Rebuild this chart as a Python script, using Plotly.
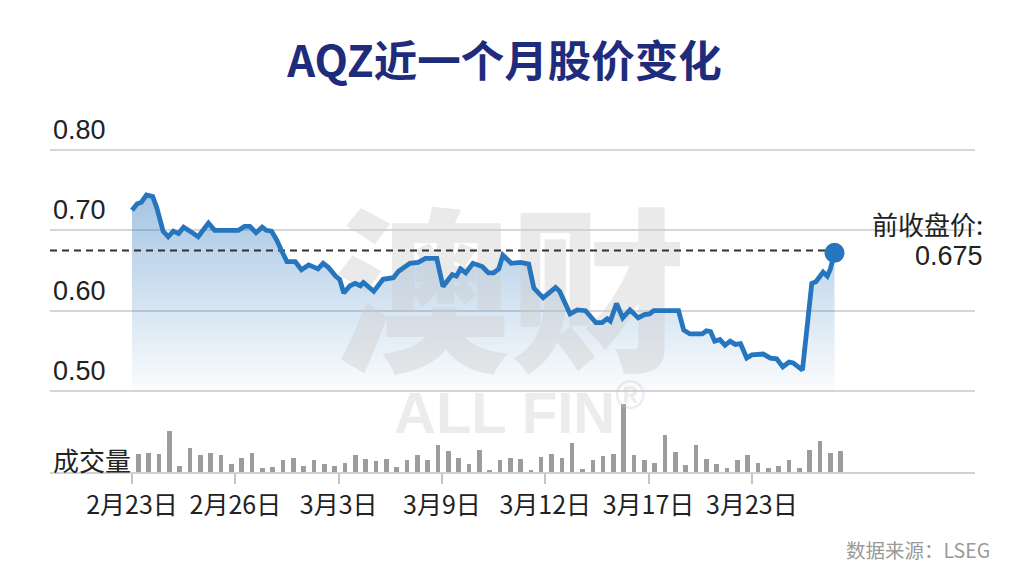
import plotly.graph_objects as go

# ---------------- data ----------------
title_text = "AQZ近一个月股价变化"
date_ticks = ["2月23日", "2月26日", "3月3日", "3月9日", "3月12日", "3月17日", "3月23日"]
date_tick_pos = [0, 10, 20, 30, 40, 50, 60]

# price series: time position (trading-session index) and price
price_t = [0.0, 0.5, 0.9, 1.4, 2.0, 2.4, 2.8, 3.0, 3.5, 4.0, 4.5, 5.0, 5.6, 6.4, 7.4, 8.0,
           10.3, 10.9, 11.4, 12.0, 12.6, 13.0, 13.5, 14.0, 14.5, 15.0, 15.8, 16.4, 17.1, 18.0,
           18.5, 19.0, 19.7, 20.1, 20.5, 21.1, 21.6, 22.1, 22.4, 23.4, 24.3, 25.3, 25.8, 26.9,
           27.7, 28.4, 29.5, 30.1, 31.0, 31.4, 31.8, 32.3, 33.0, 33.9, 34.5, 35.0, 35.5, 35.9,
           36.7, 37.6, 38.4, 38.9, 39.8, 41.0, 41.4, 42.4, 43.1, 43.9, 44.9, 45.5, 46.0, 46.3,
           46.9, 47.5, 48.2, 49.0, 49.6, 50.1, 50.5, 52.9, 53.4, 54.0, 55.2, 55.6, 56.0, 56.4,
           56.9, 57.4, 57.9, 58.4, 58.9, 59.5, 60.0, 61.1, 61.8, 62.4, 63.0, 63.6, 64.0, 64.9,
           65.8, 66.2, 66.9, 67.3, 67.6, 68.0]
price = [0.725, 0.733, 0.735, 0.744, 0.742, 0.728, 0.709, 0.699, 0.692, 0.699, 0.696, 0.704,
         0.699, 0.692, 0.709, 0.700, 0.700, 0.705, 0.705, 0.697, 0.704, 0.700, 0.699, 0.688,
         0.674, 0.661, 0.661, 0.651, 0.657, 0.652, 0.659, 0.654, 0.643, 0.639, 0.622, 0.631,
         0.634, 0.631, 0.635, 0.624, 0.639, 0.641, 0.649, 0.659, 0.660, 0.665, 0.665, 0.630,
         0.645, 0.643, 0.652, 0.647, 0.659, 0.655, 0.647, 0.647, 0.652, 0.669, 0.659, 0.660,
         0.658, 0.628, 0.616, 0.629, 0.624, 0.596, 0.601, 0.600, 0.585, 0.585, 0.590, 0.587,
         0.609, 0.591, 0.601, 0.591, 0.595, 0.596, 0.600, 0.600, 0.576, 0.571, 0.571, 0.575,
         0.574, 0.562, 0.564, 0.557, 0.562, 0.558, 0.559, 0.541, 0.545, 0.546, 0.541, 0.540,
         0.530, 0.536, 0.535, 0.526, 0.634, 0.636, 0.648, 0.643, 0.652, 0.672]

# volume per session (relative units)
volume = [53, 57, 55, 122, 17, 72, 52, 57, 52, 23, 43, 57, 12, 15, 35, 43, 17, 35, 23, 17,
          28, 52, 38, 33, 38, 15, 35, 52, 35, 80, 62, 43, 23, 65, 7, 35, 43, 38, 7, 45,
          53, 43, 87, 8, 35, 48, 53, 203, 52, 35, 28, 110, 60, 20, 80, 40, 25, 13, 35, 50,
          28, 13, 18, 35, 13, 65, 93, 57, 63]
volume_t = list(range(len(volume)))

prev_close = 0.675
y_ticks = [0.50, 0.60, 0.70, 0.80]
source_text = "数据来源：LSEG"

# ---------------- style ----------------
LINE = "#2675BF"
FONT = "Liberation Sans, Noto Sans CJK SC, sans-serif"
CJK = "Noto Sans CJK SC, Liberation Sans, sans-serif"
X_MIN, X_MAX = -7.94, 81.6
W, H = 1016, 580  # page body has an 8px default margin

fig = go.Figure()

# gradient fill under price
fig.add_trace(go.Scatter(
    x=price_t, y=price, mode="lines", line=dict(width=0, color=LINE),
    fill="tozeroy",
    fillgradient=dict(type="vertical", start=0.50, stop=0.745,
                      colorscale=[[0, "rgba(40,116,188,0.02)"],
                                  [1, "rgba(40,116,188,0.42)"]]),
    hoverinfo="skip", showlegend=False, xaxis="x", yaxis="y"))

# watermark (under the line)
fig.add_trace(go.Scatter(
    x=[36.6], y=[0.596], mode="text", text=["澳财"],
    textfont=dict(family=CJK, size=176, color="rgba(205,205,205,0.42)", weight=900),
    hoverinfo="skip", showlegend=False, xaxis="x", yaxis="y"))

# previous close dashed reference line
fig.add_trace(go.Scatter(
    x=[X_MIN, price_t[-1]], y=[prev_close, prev_close], mode="lines",
    line=dict(color="#333333", width=2, dash="7px,5px"),
    hoverinfo="skip", showlegend=False, xaxis="x", yaxis="y"))

# price line
fig.add_trace(go.Scatter(
    x=price_t, y=price, mode="lines", line=dict(width=4.8, color=LINE, shape="linear"),
    showlegend=False, xaxis="x", yaxis="y"))

# end marker
fig.add_trace(go.Scatter(
    x=[price_t[-1]], y=[price[-1]], mode="markers",
    marker=dict(size=20, color=LINE),
    showlegend=False, xaxis="x", yaxis="y"))

# volume bars
fig.add_trace(go.Bar(
    x=volume_t, y=volume, width=0.45, offset=0.38,
    marker=dict(color="#9c9c9c", line=dict(width=0)),
    showlegend=False, xaxis="x", yaxis="y2"))

annotations = []
for v in y_ticks:
    annotations.append(dict(
        x=0, xref="paper", y=v, yref="y", xanchor="left", yanchor="middle",
        xshift=1, yshift=20, showarrow=False, text=f"{v:.2f}",
        font=dict(family=FONT, size=27, color="#222222")))

annotations += [
    dict(x=0, xref="paper", y=0, yref="y2", xanchor="left", yanchor="middle",
         xshift=1, yshift=12, showarrow=False, text="成交量",
         font=dict(family=CJK, size=26, color="#222222")),
    dict(x=1.0108, xref="paper", y=0.7083, yref="y", xanchor="right", yanchor="middle",
         showarrow=False, text="前收盘价:",
         font=dict(family=CJK, size=26, color="#222222")),
    dict(x=1.0108, xref="paper", y=0.6685, yref="y", xanchor="right", yanchor="middle",
         showarrow=False, text=f"{prev_close:.3f}",
         font=dict(family=FONT, size=27, color="#222222")),
    dict(x=1.0184, xref="paper", y=-0.2377, yref="paper", xanchor="right", yanchor="middle",
         showarrow=False, text=source_text,
         font=dict(family=CJK, size=19.5, color="#999999")),
    dict(x=0.508, xref="paper", y=0.1975, yref="paper", xanchor="center", yanchor="middle",
         showarrow=False, text="ALL FIN<sup>®</sup>",
         font=dict(family="Liberation Sans, sans-serif", size=58,
                   color="rgba(200,200,200,0.35)", weight=900)),
]

fig.update_layout(
    width=W, height=H,
    paper_bgcolor="white", plot_bgcolor="white",
    margin=dict(l=42, r=49, t=140, b=116),
    title=dict(text=title_text, x=496.5 / W, xref="container", xanchor="center",
               y=1 - 54 / H, yref="container", yanchor="middle",
               font=dict(family=CJK, size=43.5, color="#1F2C7C", weight="bold")),
    xaxis=dict(range=[X_MIN, X_MAX], anchor="y2", tickmode="array",
               tickvals=date_tick_pos, ticktext=date_ticks,
               ticks="outside", ticklen=10, tickwidth=1.5, tickcolor="#c4c4c4",
               tickfont=dict(family=CJK, size=25, color="#222222"),
               showgrid=False, zeroline=False,
               showline=True, linecolor="#d2d2d2", linewidth=2),
    yaxis=dict(domain=[0.2463, 0.9975], range=[0.4985, 0.8015],
               tickmode="array", tickvals=y_ticks, showticklabels=False,
               showgrid=True, gridcolor="#d6d6d6", gridwidth=1.5,
               zeroline=False, ticks=""),
    yaxis2=dict(domain=[0, 0.2222], range=[0, 215], showticklabels=False,
                showgrid=False, zeroline=False, ticks=""),
    annotations=annotations,
    bargap=0,
)

fig.write_html("out.html")
